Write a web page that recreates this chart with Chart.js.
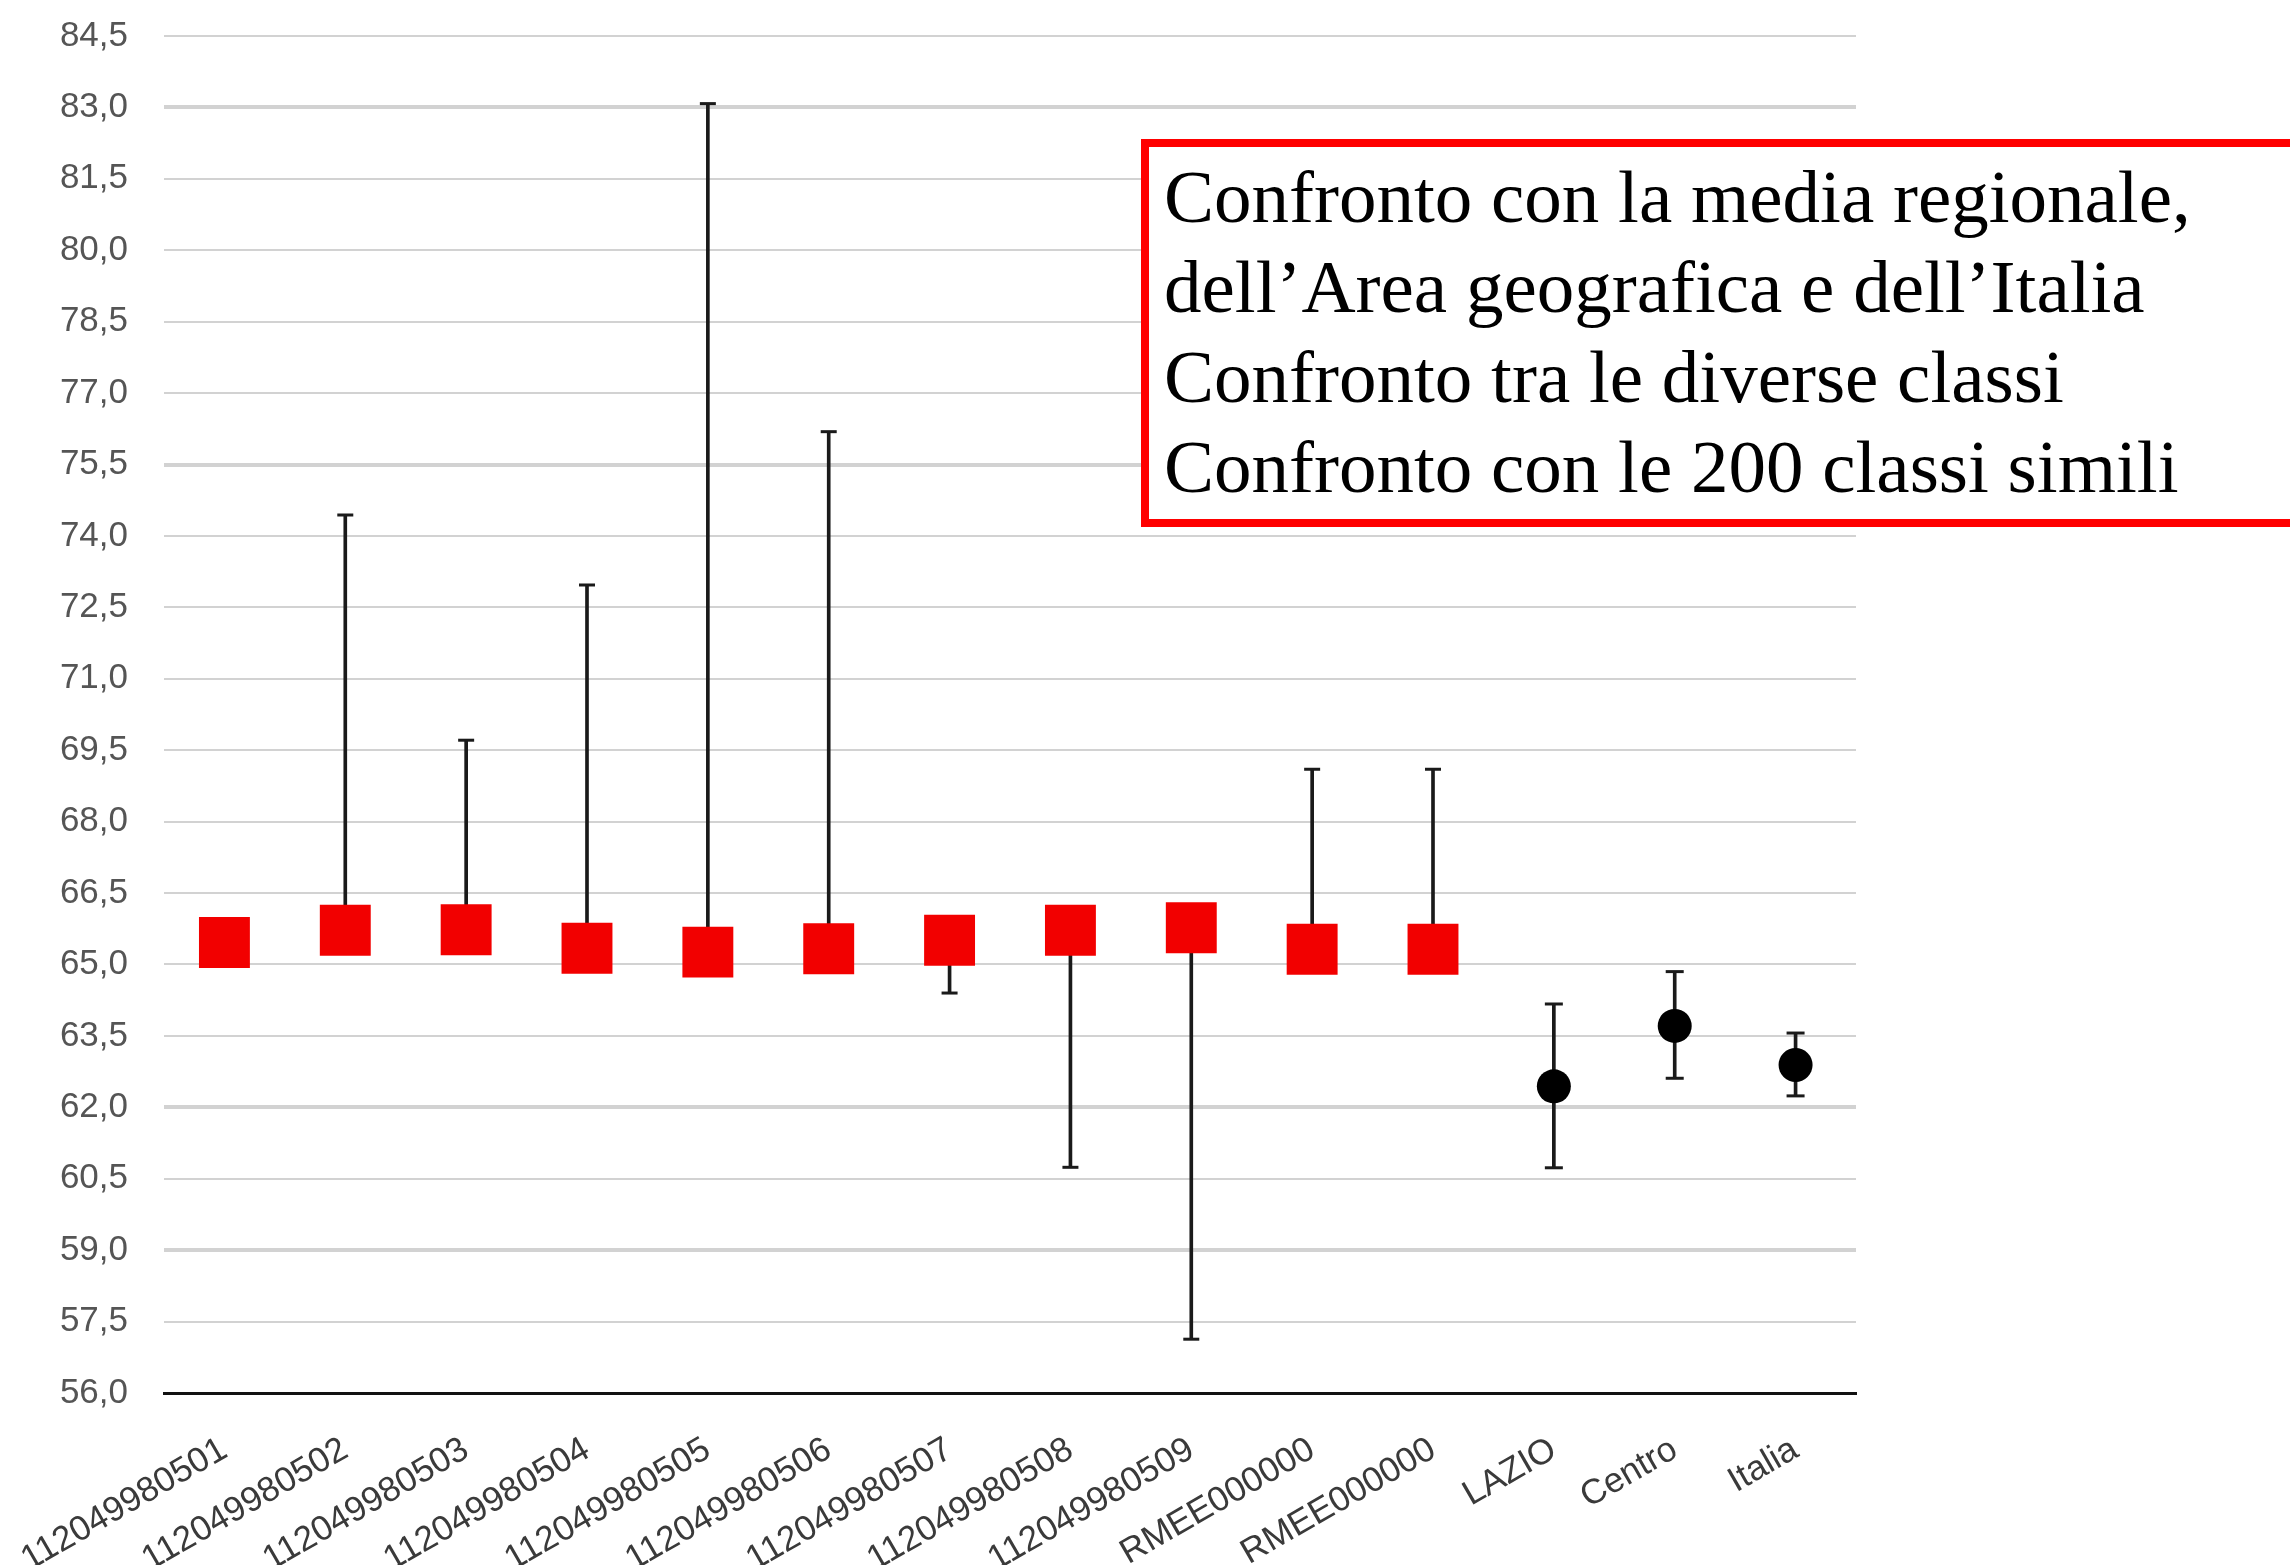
<!DOCTYPE html>
<html>
<head>
<meta charset="utf-8">
<script src="https://cdn.jsdelivr.net/npm/chart.js@4.4.1/dist/chart.umd.min.js"></script>
<style>
  html, body { margin: 0; padding: 0; background: #fff; }
  #wrap { position: relative; width: 2290px; height: 1565px; overflow: hidden; }
  #note {
    position: absolute; left: 1141px; top: 139px; width: 1200px; height: 388px;
    box-sizing: border-box; border: 8px solid #ff0000; background: #fff;
    padding: 5px 0 0 15px;
    font-family: "Liberation Serif", "Times New Roman", serif; font-size: 75px; line-height: 90px;
    color: #000; white-space: nowrap;
  }
</style>
</head>
<body>
<div id="wrap">
  <canvas id="chart" width="2290" height="1565"></canvas>
  <div id="note">
    Confronto con la media regionale,<br>
    dell’Area geografica e dell’Italia<br>
    Confronto tra le diverse classi<br>
    Confronto con le 200 classi simili
  </div>
</div>
<script>
// categorie (classi + confronti territoriali)
let labels = ['112049980501', '112049980502', '112049980503', '112049980504', '112049980505',
              '112049980506', '112049980507', '112049980508', '112049980509', 'RMEE000000',
              'RMEE000000', 'LAZIO', 'Centro', 'Italia'];
// valore medio
let means = [65.46, 65.72, 65.73, 65.34, 65.26, 65.33, 65.51, 65.72, 65.77, 65.32, 65.32, 62.44, 63.71, 62.89];
// estremo superiore / inferiore dell'intervallo (null = assente)
let upper = [null, 74.44, 69.71, 72.97, 83.08, 76.19, null, null, null, 69.10, 69.10, 64.17, 64.85, 63.56];
let lower = [null, null, null, null, null, null, 64.40, 60.74, 57.13, null, null, 60.73, 62.61, 62.24];
let nClassi = 11; // the first 11 are drawn as red squares

let redPoints = means.map((v, i) => i < nClassi ? v : null);
let blackPoints = means.map((v, i) => i < nClassi ? null : v);
let ranges = means.map((v, i) => {
    if (upper[i] === null && lower[i] === null) return null;
    return [lower[i] === null ? v : lower[i], upper[i] === null ? v : upper[i]];
});

let thick = [83, 75.5, 62, 59];

new Chart(document.getElementById('chart'), {
    type: 'bar',
    data: {
        labels: labels,
        datasets: [
            {
                type: 'line',
                data: redPoints,
                showLine: false,
                pointStyle: 'rect',
                pointRadius: 36,
                pointBackgroundColor: '#f20000',
                pointBorderWidth: 0,
                order: 0
            },
            {
                type: 'line',
                data: blackPoints,
                showLine: false,
                pointStyle: 'circle',
                pointRadius: 17,
                pointBackgroundColor: '#000',
                pointBorderWidth: 0,
                order: 0
            },
            {
                type: 'line',
                data: upper,
                showLine: false,
                pointStyle: 'line',
                pointRadius: ctx => ctx.dataIndex < nClassi ? 8 : 9,
                pointBorderColor: '#1a1a1a',
                pointBorderWidth: 3,
                order: 1
            },
            {
                type: 'line',
                data: lower,
                showLine: false,
                pointStyle: 'line',
                pointRadius: ctx => ctx.dataIndex < nClassi ? 8 : 9,
                pointBorderColor: '#1a1a1a',
                pointBorderWidth: 3,
                order: 1
            },
            {
                type: 'bar',
                data: ranges,
                backgroundColor: '#1a1a1a',
                borderWidth: 0,
                barThickness: 3,
                order: 2
            }
        ]
    },
    options: {
        responsive: false,
        animation: false,
        plugins: {
            legend: { display: false },
            tooltip: { enabled: false }
        },
        layout: {
            padding: { top: 32, right: 434, left: 0, bottom: 0 }
        },
        scales: {
            x: {
                grid: { display: false },
                border: { color: '#111', width: 3 },
                ticks: {
                    autoSkip: false,
                    minRotation: 30,
                    maxRotation: 30,
                    padding: 28,
                    color: '#3a3a3a',
                    font: { family: "'Liberation Sans', Arial, sans-serif", size: 35 }
                },
                afterFit: function(scale) {
                    scale.height = 172;
                    scale.paddingLeft = 0;
                    scale.paddingRight = 0;
                }
            },
            y: {
                min: 56,
                max: 84.5,
                border: { display: false },
                grid: {
                    drawTicks: false,
                    color: ctx => ctx.tick && ctx.tick.value === 56 ? '#111' : '#d2d2d2',
                    lineWidth: ctx => {
                        if (!ctx.tick) return 2;
                        if (ctx.tick.value === 56) return 3;
                        return thick.includes(ctx.tick.value) ? 4 : 2;
                    }
                },
                ticks: {
                    stepSize: 1.5,
                    padding: 36,
                    color: '#555',
                    font: { family: "'Liberation Sans', Arial, sans-serif", size: 35 },
                    callback: v => v.toFixed(1).replace('.', ',')
                },
                afterFit: function(scale) {
                    scale.width = 164;
                    scale.paddingTop = 0;
                    scale.paddingBottom = 0;
                }
            }
        }
    }
});
</script>
</body>
</html>
